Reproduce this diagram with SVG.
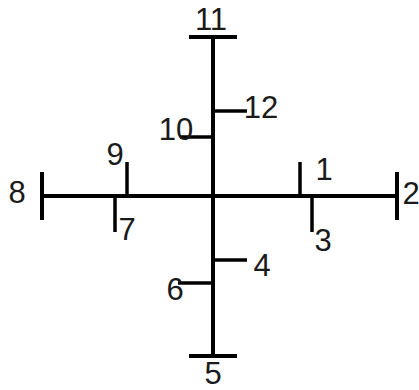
<svg xmlns="http://www.w3.org/2000/svg" width="419" height="390" viewBox="0 0 419 390">
<style>
.ln{stroke:#000;stroke-width:4;stroke-linecap:butt;fill:none}
.tk{stroke:#000;stroke-width:3.5;fill:none}
.lb{font-family:"Liberation Sans",Arial,sans-serif;font-size:31px;fill:#1a1a1a;text-anchor:middle}
</style>
<rect width="419" height="390" fill="#fff"/>
<g id="connectors">
<line class="ln" x1="213" y1="37" x2="213" y2="356"/>
<line class="ln" x1="42" y1="196" x2="397" y2="196"/>
</g>
<g id="n11"><line class="ln" x1="189" y1="37" x2="237" y2="37"/><text class="lb" x="211" y="30">11</text></g>
<g id="n12"><line class="tk" x1="213" y1="111" x2="247" y2="111"/><text class="lb" x="261" y="118">12</text></g>
<g id="n10"><line class="tk" x1="180" y1="137" x2="213" y2="137"/><text class="lb" x="176" y="140">10</text></g>
<g id="n9"><line class="tk" x1="127" y1="162" x2="127" y2="196"/><text class="lb" x="115" y="165">9</text></g>
<g id="n8"><line class="ln" x1="42" y1="172" x2="42" y2="220"/><text class="lb" x="17" y="203">8</text></g>
<g id="n7"><line class="tk" x1="115" y1="196" x2="115" y2="232"/><text class="lb" x="127" y="240">7</text></g>
<g id="n1"><line class="tk" x1="300" y1="162" x2="300" y2="196"/><text class="lb" x="324" y="180">1</text></g>
<g id="n2"><line class="ln" x1="397" y1="172" x2="397" y2="220"/><text class="lb" x="411" y="204">2</text></g>
<g id="n3"><line class="tk" x1="312" y1="196" x2="312" y2="232"/><text class="lb" x="323" y="251">3</text></g>
<g id="n4"><line class="tk" x1="213" y1="260" x2="247" y2="260"/><text class="lb" x="262" y="276">4</text></g>
<g id="n6"><line class="tk" x1="178" y1="283" x2="213" y2="283"/><text class="lb" x="175" y="300">6</text></g>
<g id="n5"><line class="ln" x1="189" y1="356" x2="237" y2="356"/><text class="lb" x="213" y="384">5</text></g>
</svg>
